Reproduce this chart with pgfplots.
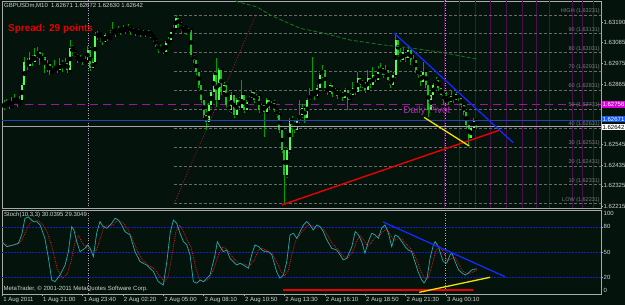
\documentclass[border=0pt]{standalone}
\usepackage{pgfplots}
\pgfplotsset{compat=1.18}
\usepackage{pgfplotstable}
\usepackage{fontspec}
\setmainfont{Liberation Sans}
\definecolor{bg}{RGB}{4,20,12}
\definecolor{wick}{RGB}{0,160,0}
\definecolor{bull}{RGB}{80,255,80}
\definecolor{bear}{RGB}{30,190,30}
\definecolor{fibgray}{RGB}{105,105,105}
\definecolor{fibtxt}{RGB}{125,125,125}
\definecolor{pivot}{RGB}{160,20,160}
\definecolor{pivottxt}{RGB}{175,40,175}
\definecolor{askblue}{RGB}{30,70,170}
\definecolor{bidgray}{RGB}{165,165,165}
\definecolor{vpurple}{RGB}{75,15,75}
\definecolor{frame}{RGB}{170,170,170}
\definecolor{txt}{RGB}{210,210,210}
\definecolor{trendred}{RGB}{235,0,0}
\definecolor{trendblue}{RGB}{20,40,255}
\definecolor{trendyellow}{RGB}{240,225,0}
\definecolor{magbox}{RGB}{220,0,220}
\definecolor{bluebox}{RGB}{20,90,230}
\definecolor{kline}{RGB}{40,170,170}
\definecolor{dline}{RGB}{230,20,20}
\definecolor{levelblue}{RGB}{20,30,200}
\definecolor{sep}{RGB}{190,160,190}
\definecolor{fibdot}{RGB}{150,20,40}
\definecolor{ma}{RGB}{30,115,30}
\definecolor{spread}{RGB}{230,0,0}
\tikzset{fiblab/.style={anchor=south east, inner sep=0pt, font=\fontsize{5.5}{6}\selectfont, text=fibtxt, xshift=-1pt, yshift=1.2pt}}

\pgfplotstableread{
i o h l c
-31 1.62748 1.62780 1.62727 1.62759
-30 1.62759 1.62785 1.62748 1.62769
-29 1.62769 1.62780 1.62732 1.62748
-28 1.62748 1.62796 1.62738 1.62775
-27 1.62775 1.62812 1.62764 1.62785
-26 1.62785 1.62796 1.62743 1.62764
-25 1.62764 1.62801 1.62754 1.62780
-24 1.62780 1.62870 1.62775 1.62860
-23 1.62860 1.63008 1.62849 1.62981
-22 1.62981 1.63003 1.62939 1.62960
-21 1.62960 1.63034 1.62950 1.63003
-20 1.63003 1.63019 1.62960 1.62981
-19 1.62981 1.63056 1.62971 1.63019
-18 1.63019 1.63061 1.63003 1.63034
-17 1.63034 1.63045 1.62966 1.62992
-16 1.62992 1.63029 1.62976 1.63008
-15 1.63008 1.63019 1.62923 1.62950
-14 1.62950 1.62992 1.62928 1.62971
-13 1.62971 1.62981 1.62913 1.62928
-12 1.62928 1.62960 1.62918 1.62939
-11 1.62939 1.62992 1.62928 1.62960
-10 1.62960 1.62971 1.62923 1.62939
-9 1.62939 1.63003 1.62934 1.62971
-8 1.62971 1.62992 1.62928 1.62950
-7 1.62950 1.63003 1.62939 1.62976
-6 1.62976 1.62987 1.62923 1.62939
-5 1.62939 1.63098 1.62934 1.63056
-4 1.63056 1.63072 1.63013 1.63034
-3 1.63034 1.63045 1.62992 1.63008
-2 1.63008 1.63024 1.62976 1.62992
-1 1.62992 1.63019 1.62981 1.63003
0 1.63003 1.63013 1.62966 1.62981
1 1.62981 1.63013 1.62971 1.62992
2 1.62992 1.63066 1.62981 1.63045
3 1.63045 1.63061 1.62934 1.62950
4 1.62950 1.63003 1.62939 1.62981
5 1.62981 1.63140 1.62976 1.63119
6 1.63119 1.63146 1.63098 1.63130
7 1.63130 1.63140 1.63087 1.63109
8 1.63109 1.63119 1.63072 1.63087
9 1.63087 1.63135 1.63077 1.63125
10 1.63125 1.63135 1.63093 1.63109
11 1.63109 1.63151 1.63098 1.63135
12 1.63135 1.63193 1.63125 1.63151
13 1.63151 1.63162 1.63114 1.63130
14 1.63130 1.63172 1.63119 1.63156
15 1.63156 1.63167 1.63125 1.63140
16 1.63140 1.63178 1.63135 1.63162
17 1.63162 1.63172 1.63130 1.63146
18 1.63146 1.63183 1.63135 1.63167
19 1.63167 1.63178 1.63125 1.63140
20 1.63140 1.63162 1.63130 1.63151
21 1.63151 1.63162 1.63119 1.63135
22 1.63135 1.63156 1.63125 1.63146
23 1.63146 1.63156 1.63114 1.63125
24 1.63125 1.63151 1.63114 1.63140
25 1.63140 1.63146 1.63114 1.63130
26 1.63130 1.63151 1.63119 1.63135
27 1.63135 1.63146 1.63109 1.63119
28 1.63119 1.63130 1.63087 1.63098
29 1.63098 1.63109 1.63061 1.63072
30 1.63072 1.63082 1.63029 1.63045
31 1.63045 1.63077 1.63040 1.63056
32 1.63056 1.63066 1.63024 1.63034
33 1.63034 1.63093 1.63024 1.63082
34 1.63082 1.63114 1.63072 1.63098
35 1.63098 1.63151 1.63087 1.63140
36 1.63140 1.63178 1.63130 1.63162
37 1.63162 1.63231 1.63151 1.63215
38 1.63215 1.63225 1.63162 1.63178
39 1.63178 1.63193 1.63135 1.63151
40 1.63151 1.63172 1.63140 1.63162
41 1.63162 1.63172 1.63125 1.63140
42 1.63140 1.63162 1.63130 1.63151
43 1.63151 1.63162 1.63008 1.63019
44 1.63019 1.63034 1.62976 1.62992
45 1.62992 1.63003 1.62913 1.62928
46 1.62928 1.62939 1.62844 1.62860
47 1.62860 1.62870 1.62764 1.62780
48 1.62780 1.62791 1.62685 1.62701
49 1.62701 1.62727 1.62621 1.62663
50 1.62663 1.62764 1.62648 1.62754
51 1.62754 1.62833 1.62738 1.62822
52 1.62822 1.62923 1.62807 1.62913
53 1.62913 1.63003 1.62743 1.62780
54 1.62780 1.62950 1.62769 1.62939
55 1.62939 1.62950 1.62807 1.62822
56 1.62822 1.62875 1.62807 1.62860
57 1.62860 1.62870 1.62738 1.62754
58 1.62754 1.62780 1.62716 1.62727
59 1.62727 1.62822 1.62711 1.62807
60 1.62807 1.62817 1.62685 1.62701
61 1.62701 1.62791 1.62690 1.62780
62 1.62780 1.62796 1.62727 1.62738
63 1.62738 1.62886 1.62727 1.62807
64 1.62807 1.62817 1.62711 1.62727
65 1.62727 1.62780 1.62716 1.62769
66 1.62769 1.62807 1.62759 1.62791
67 1.62791 1.62833 1.62780 1.62822
68 1.62822 1.62833 1.62764 1.62780
69 1.62780 1.62812 1.62769 1.62801
70 1.62801 1.62812 1.62711 1.62727
71 1.62727 1.62764 1.62716 1.62754
72 1.62754 1.62764 1.62584 1.62716
73 1.62716 1.62791 1.62706 1.62780
74 1.62780 1.62791 1.62727 1.62738
75 1.62738 1.62775 1.62727 1.62764
76 1.62764 1.62780 1.62716 1.62727
77 1.62727 1.62738 1.62685 1.62701
78 1.62701 1.62716 1.62605 1.62621
79 1.62621 1.62632 1.62499 1.62515
80 1.62515 1.62526 1.62231 1.62383
81 1.62383 1.62526 1.62367 1.62515
82 1.62515 1.62685 1.62499 1.62674
83 1.62674 1.62695 1.62584 1.62648
84 1.62648 1.62674 1.62605 1.62621
85 1.62621 1.62685 1.62610 1.62674
86 1.62674 1.62780 1.62658 1.62701
87 1.62701 1.62759 1.62685 1.62738
88 1.62738 1.62754 1.62658 1.62685
89 1.62685 1.62791 1.62674 1.62780
90 1.62780 1.62844 1.62769 1.62807
91 1.62807 1.63008 1.62796 1.62822
92 1.62822 1.62833 1.62780 1.62801
93 1.62801 1.62860 1.62791 1.62844
94 1.62844 1.62923 1.62833 1.62913
95 1.62913 1.62966 1.62897 1.62939
96 1.62939 1.62950 1.62833 1.62844
97 1.62844 1.62854 1.62807 1.62822
98 1.62822 1.62870 1.62812 1.62860
99 1.62860 1.62870 1.62796 1.62812
100 1.62812 1.62844 1.62801 1.62833
101 1.62833 1.62844 1.62785 1.62801
102 1.62801 1.62833 1.62791 1.62822
103 1.62822 1.62833 1.62775 1.62791
104 1.62791 1.62844 1.62780 1.62833
105 1.62833 1.62844 1.62727 1.62780
106 1.62780 1.62817 1.62769 1.62807
107 1.62807 1.62875 1.62796 1.62844
108 1.62844 1.62854 1.62807 1.62822
109 1.62822 1.62928 1.62812 1.62897
110 1.62897 1.62907 1.62844 1.62860
111 1.62860 1.62886 1.62844 1.62875
112 1.62875 1.62886 1.62817 1.62833
113 1.62833 1.62939 1.62822 1.62897
114 1.62897 1.62907 1.62844 1.62860
115 1.62860 1.62955 1.62849 1.62913
116 1.62913 1.62923 1.62875 1.62886
117 1.62886 1.62960 1.62875 1.62928
118 1.62928 1.62976 1.62918 1.62950
119 1.62950 1.62960 1.62897 1.62913
120 1.62913 1.62966 1.62902 1.62939
121 1.62939 1.62950 1.62870 1.62886
122 1.62886 1.62897 1.62844 1.62860
123 1.62860 1.62928 1.62849 1.62913
124 1.62913 1.63135 1.62897 1.63098
125 1.63098 1.63109 1.63003 1.63019
126 1.63019 1.63056 1.62981 1.62992
127 1.62992 1.63061 1.62981 1.63034
128 1.63034 1.63045 1.62981 1.63003
129 1.63003 1.63072 1.62992 1.63045
130 1.63045 1.63056 1.62966 1.62981
131 1.62981 1.63019 1.62971 1.62992
132 1.62992 1.63003 1.62923 1.62939
133 1.62939 1.62950 1.62897 1.62913
134 1.62913 1.62923 1.62854 1.62875
135 1.62875 1.62981 1.62865 1.62928
136 1.62928 1.62939 1.62844 1.62860
137 1.62860 1.62870 1.62690 1.62727
138 1.62727 1.62817 1.62716 1.62807
139 1.62807 1.62870 1.62796 1.62860
140 1.62860 1.62902 1.62849 1.62886
141 1.62886 1.62897 1.62828 1.62844
142 1.62844 1.62854 1.62791 1.62807
143 1.62807 1.62817 1.62754 1.62780
144 1.62780 1.62822 1.62769 1.62796
145 1.62796 1.62807 1.62754 1.62769
146 1.62769 1.62833 1.62759 1.62801
147 1.62801 1.62812 1.62764 1.62780
148 1.62780 1.62822 1.62769 1.62812
149 1.62812 1.62822 1.62775 1.62791
150 1.62791 1.62801 1.62738 1.62754
151 1.62754 1.62764 1.62701 1.62716
152 1.62716 1.62727 1.62632 1.62648
153 1.62648 1.62658 1.62542 1.62579
154 1.62579 1.62642 1.62568 1.62632
155 1.62632 1.62685 1.62621 1.62671
156 1.62671 1.62672 1.62630 1.62642
}\candles

\begin{document}
\begin{tikzpicture}[x=1pt,y=1pt]
\fill[bg] (0,0) rectangle (625,305);
\useasboundingbox (0,0) rectangle (625,305);

% ---------------- main price panel ----------------
\begin{axis}[
  at={(2pt,97pt)}, anchor=south west, scale only axis,
  width=599pt, height=207pt,
  xmin=-31.9, xmax=205.4, ymin=1.622076, ymax=1.633047,
  clip mode=individual, unbounded coords=jump,
  axis line style={draw=frame, line width=0.6pt},
  xtick=\empty,
  ytick={1.62215,1.62325,1.62435,1.62545,1.62865,1.62975,1.63085,1.63190},
  yticklabels={1.62215,1.62325,1.62435,1.62545,1.62865,1.62975,1.63085,1.63190},
  ytick pos=right, yticklabel pos=right,
  tick align=outside, major tick length=2pt,
  tick style={draw=frame, line width=0.5pt},
  yticklabel style={font=\fontsize{6}{7}\selectfont, text=txt, anchor=west, inner sep=0.5pt},
]
% vertical purple lines
\addplot[vpurple, line width=0.8pt] coordinates {
 (143.2,1.6219) (143.2,1.6332) (143.2,nan)
 (149.2,1.6219) (149.2,1.6332) (149.2,nan)
 (155.5,1.6219) (155.5,1.6332) (155.5,nan)
 (161.4,1.6219) (161.4,1.6332) (161.4,nan)
 (167.8,1.6219) (167.8,1.6332) (167.8,nan)
 (174.1,1.6219) (174.1,1.6332) (174.1,nan)
 (180.0,1.6219) (180.0,1.6332) (180.0,nan)
 (184.8,1.6219) (184.8,1.6332) (184.8,nan)
 (193.9,1.6219) (193.9,1.6332) (193.9,nan)
 (197.9,1.6219) (197.9,1.6332) (197.9,nan)
 (202.3,1.6219) (202.3,1.6332)};
% fibonacci levels
\addplot[fibgray, line width=0.6pt, dash pattern=on 3pt off 2pt] coordinates {
 (36.3,1.63231) (206,1.63231) (36.3,nan)
 (36.3,1.63131) (206,1.63131) (36.3,nan)
 (36.3,1.63031) (206,1.63031) (36.3,nan)
 (36.3,1.62931) (206,1.62931) (36.3,nan)
 (36.3,1.62831) (206,1.62831) (36.3,nan)
 (36.3,1.62731) (206,1.62731) (36.3,nan)
 (36.3,1.62631) (206,1.62631) (36.3,nan)
 (36.3,1.62531) (206,1.62531) (36.3,nan)
 (36.3,1.62431) (206,1.62431) (36.3,nan)
 (36.3,1.62331) (206,1.62331) (36.3,nan)
 (36.3,1.62231) (206,1.62231)};
\addplot[fibdot, line width=0.8pt, dash pattern=on 1pt off 1.6pt] coordinates {(36.3,1.62231) (68.7,1.63231)};
% day separators
\addplot[sep, line width=0.6pt, dash pattern=on 1pt off 1.5pt] coordinates {
 (2.2,1.6219) (2.2,1.6332) (2.2,nan) (143.6,1.6219) (143.6,1.6332)};
% daily pivot
\addplot[pivot, line width=0.9pt, dash pattern=on 8pt off 5pt] coordinates {(-33,1.62756) (206,1.62756)};
% candles: wicks
\addplot[only marks, mark=none, forget plot,
  error bars/.cd, y dir=both, y explicit, error mark=none,
  error bar style={draw=wick, line width=0.7pt}]
  table[x=i, y=o, y error plus expr=\thisrow{h}-\thisrow{o}, y error minus expr=\thisrow{o}-\thisrow{l}] {\candles};
% bull bodies
\addplot[only marks, mark=none, forget plot,
  error bars/.cd, y dir=both, y explicit, error mark=none,
  error bar style={draw=bull, line width=2.0pt}]
  table[x=i, y expr=0.5*(\thisrow{o}+\thisrow{c}), y error expr={0.5*max(\thisrow{c}-\thisrow{o},0)}] {\candles};
% bear bodies
\addplot[only marks, mark=none, forget plot,
  error bars/.cd, y dir=both, y explicit, error mark=none,
  error bar style={draw=bear, line width=2.0pt}]
  table[x=i, y expr=0.5*(\thisrow{o}+\thisrow{c}), y error expr={0.5*max(\thisrow{o}-\thisrow{c},0)}] {\candles};
% moving average (dashed green)
\addplot[ma, line width=0.8pt, dash pattern=on 4pt off 2pt] coordinates {
 (56.5,1.63340) (61.2,1.63301) (69,1.63274) (74.3,1.63231) (86.2,1.63160) (95.3,1.63135)
 (106,1.63098) (113.9,1.63082) (119.1,1.63072) (129.8,1.63056) (141.6,1.63034) (156.3,1.62997)};
% ask and bid lines
\addplot[askblue, line width=1.3pt] coordinates {(-33,1.62671) (206,1.62671)};
\addplot[bidgray, line width=0.6pt] coordinates {(-33,1.62642) (206,1.62642)};
% trend lines
\addplot[trendred, line width=1.4pt] coordinates {(79.0,1.62224) (165.4,1.62621)};
\addplot[trendblue, line width=1.3pt] coordinates {(123.4,1.63135) (170.6,1.62554)};
\addplot[trendyellow, line width=1.3pt] coordinates {(135.3,1.62688) (153.2,1.62536)};
% texts
\node[anchor=west, inner sep=0pt, font=\fontsize{6}{7}\selectfont, text=txt] at (rel axis cs:0,1) [xshift=2pt, yshift=-5pt] {GBPUSDm,M10\ \ 1.62671 1.62672 1.62630 1.62642};
\node[anchor=west, inner sep=0pt, font=\bfseries\fontsize{10}{12}\selectfont, text=spread] at (rel axis cs:0,1) [xshift=6pt, yshift=-27.5pt] {Spread: 29 points};
\node[anchor=west, inner sep=0pt, font=\fontsize{10}{12}\selectfont, text=pivottxt] at (axis cs:127,1.62722) {Daily Pivot};
\node[fiblab] at (axis cs:205.4,1.63231) {HIGH (1.63231)};
\node[fiblab] at (axis cs:205.4,1.63131) {90 (1.63131)};
\node[fiblab] at (axis cs:205.4,1.63031) {80 (1.63031)};
\node[fiblab] at (axis cs:205.4,1.62931) {70 (1.62931)};
\node[fiblab] at (axis cs:205.4,1.62831) {60 (1.62831)};
\node[fiblab] at (axis cs:205.4,1.62731) {50 (1.62731)};
\node[fiblab] at (axis cs:205.4,1.62631) {40 (1.62631)};
\node[fiblab] at (axis cs:205.4,1.62531) {30 (1.62531)};
\node[fiblab] at (axis cs:205.4,1.62431) {20 (1.62431)};
\node[fiblab] at (axis cs:205.4,1.62331) {10 (1.62331)};
\node[fiblab] at (axis cs:205.4,1.62231) {LOW (1.62231)};
\node[anchor=west, fill=magbox, text=white, inner sep=0.5pt, minimum height=6.5pt, minimum width=23pt, font=\fontsize{6}{6}\selectfont] at (axis cs:205.4,1.62756) [xshift=0.8pt] {1.62756};
\node[anchor=west, fill=bluebox, text=white, inner sep=0.5pt, minimum height=6pt, minimum width=23pt, font=\fontsize{6}{6}\selectfont] at (axis cs:205.4,1.62677) [xshift=0.8pt] {1.62671};
\node[anchor=west, fill=white, text=black, inner sep=0.5pt, minimum height=6pt, minimum width=23pt, font=\fontsize{6}{6}\selectfont] at (axis cs:205.4,1.62637) [xshift=0.8pt] {1.62642};
\end{axis}

% ---------------- stochastic panel ----------------
\begin{axis}[
  at={(2pt,10.5pt)}, anchor=south west, scale only axis,
  width=599pt, height=84.5pt,
  xmin=-31.9, xmax=205.4, ymin=0, ymax=100,
  clip mode=individual, unbounded coords=jump,
  axis line style={draw=frame, line width=0.6pt},
  xtick={-31.8,-16,0,16,32,48,64,80,96,112,128,144},
  xticklabels={1 Aug 2011,1 Aug 21:00,1 Aug 23:40,2 Aug 02:20,2 Aug 05:00,2 Aug 08:10,2 Aug 10:50,2 Aug 13:30,2 Aug 16:10,2 Aug 18:50,2 Aug 21:30,3 Aug 00:10},
  xtick pos=bottom,
  ytick={20,50,80}, yticklabels={20,50,80},
  ytick pos=right, yticklabel pos=right,
  tick align=outside, major tick length=2pt,
  tick style={draw=frame, line width=0.5pt},
  xticklabel style={font=\fontsize{6}{7}\selectfont, text=txt, anchor=north west, inner sep=0.5pt, xshift=0.3pt},
  yticklabel style={font=\fontsize{6}{7}\selectfont, text=txt, anchor=west, inner sep=0.5pt},
]
\addplot[levelblue, line width=0.6pt, dash pattern=on 1.5pt off 1.5pt] coordinates {
 (-33,80) (206,80) (-33,nan) (-33,50) (206,50) (-33,nan) (-33,20) (206,20)};
\addplot[sep, line width=0.6pt, dash pattern=on 1pt off 1.5pt] coordinates {
 (2.2,-2) (2.2,102) (2.2,nan) (143.6,-2) (143.6,102)};
% signal line (red dotted)
\addplot[dline, line width=0.7pt, dash pattern=on 1pt off 1pt] coordinates {
 (-32,60) (-29,58) (-26,59) (-24,64) (-22,78) (-20,88) (-18,88) (-16,84) (-14,74) (-12,55)
 (-10,30) (-8,19) (-6,25) (-4.5,40) (-3,62) (-1.5,70) (0,60) (2,55) (4,52) (5.5,52) (7,66)
 (8.5,80) (10,82) (12,82) (14,88) (16,85) (18,77) (20,64) (22,50) (24,40) (26,35) (28.5,30)
 (30.5,22) (32.5,15) (34,22) (35.5,48) (37,75) (38.5,82) (40,74) (41.5,64) (43,56) (45,30)
 (46.5,17) (48,15) (50,18) (52,30) (54,48) (55.5,56) (57,54) (58.5,48) (60,42) (62,37)
 (64,36) (66,34) (68,40) (69.5,52) (71,55) (73,52) (75,49) (77,38) (78.5,28) (80,22)
 (81.5,28) (83,48) (84.5,64) (86,70) (87.5,76) (89,82) (90.5,82) (92,80) (94,80) (96,76)
 (97.5,68) (99,60) (101,54) (103,46) (105,43) (107,50) (108.5,62) (110,70) (111.5,64)
 (113,57) (114.5,62) (116,68) (117.5,70) (119,74) (120.5,78) (122,70) (123.5,64) (125,66)
 (126.5,66) (128,60) (129.5,56) (131,50) (132.5,40) (134,28) (135.5,19) (137,20) (138.5,35)
 (140,52) (141.5,57) (143,50) (144.5,40) (146,42) (147.5,44) (149,36) (150.5,28) (152,25)
 (153.5,25) (155,27) (156.2,29.3)};
% main %K line
\addplot[kline, line width=0.7pt] coordinates {
 (-32,62.5) (-30,56.6) (-27.4,58.6) (-25.4,60.6) (-24.1,70.5) (-22.8,90.2) (-21.5,91.8)
 (-19.5,86.2) (-18.1,86.2) (-16.8,82.3) (-14.9,66.5) (-13.5,42.9) (-12.2,17.2) (-10.9,15.2)
 (-8.9,23.1) (-6.9,34.9) (-5.6,50.7) (-4.3,80.3) (-3.4,76.4) (-2.3,62.5) (-1,50.7) (1,54.7)
 (1.9,58.6) (3,54.7) (4.3,44.8) (5.6,72.5) (6.9,86.2) (8.2,80.3) (9.6,78.4) (11.6,84.3)
 (12.9,90.2) (14.2,88.2) (15.5,82.3) (16.8,74.4) (18.8,70.5) (20.8,50.7) (22.8,38.9)
 (25.4,34.9) (28.1,27) (30,15.2) (32,11.2) (33.4,38.8) (34.7,72.5) (36,88.2) (37.3,84.3)
 (38.6,72.5) (40,62.5) (41.3,58.6) (42.6,46.8) (43.9,15.2) (45.2,13.3) (46.6,17.2)
 (47.9,15.2) (49.3,19.2) (50.5,23.1) (52.5,46.8) (53.4,62.5) (54.5,56.6) (55.8,50.7)
 (57.1,52.7) (58.4,42.9) (59.7,38.8) (61.1,34.9) (62.4,36.9) (63.7,34.9) (65.7,31)
 (67,46.8) (68.3,58.6) (69.7,56.6) (71,52.7) (72.3,50.7) (73.6,50.7) (75,46.8) (76.9,27)
 (78.2,19.2) (79.6,23.1) (80.9,38.8) (82.2,70.5) (83.5,72.5) (84.9,66.5) (86.2,74.4)
 (87.5,82.3) (88.8,86.2) (90.1,82.3) (91.4,76.4) (92.8,82.3) (94.1,80.3) (95.4,74.4)
 (96.8,64.5) (98.7,54.7) (100.7,52.7) (102,46.8) (103.3,40.9) (104.7,42.9) (106.7,56.6)
 (108,74.4) (109.3,70.5) (110.6,62.5) (111.9,48.8) (113.2,62.5) (114.6,72.5) (115.9,70.5)
 (117.2,66.5) (118.5,78.4) (119.8,82.3) (121.2,72.5) (122.5,56.6) (123.8,70.5) (125.1,68.4)
 (126.5,62.5) (127.8,56.6) (129.1,52.7) (130.4,50.7) (131.7,38.5) (133,26.6) (134.4,17.2)
 (135.3,13.6) (136.5,19.5) (137.7,43.2) (139,58.6) (139.7,62.5) (141,56.6) (141.6,50.7)
 (142.9,38.8) (144.3,37.3) (145.6,46.8) (146.3,49.1) (147.6,38.8) (149,29) (150.3,25.5)
 (151.6,23.1) (152.9,25.5) (154.2,29) (155.5,30.2) (156.2,30.04)};
% trend lines on the oscillator
\addplot[trendblue, line width=1.3pt] coordinates {(119.1,85.8) (167.4,21.1)};
\addplot[trendred, line width=1.3pt] coordinates {(79.4,5.3) (154.6,5.3)};
\addplot[trendyellow, line width=1.3pt] coordinates {(133.4,2.6) (161.5,20.4)};
% texts
\node[anchor=west, inner sep=0pt, font=\fontsize{6}{7}\selectfont, text=txt] at (rel axis cs:0,1) [xshift=2pt, yshift=-5pt] {Stoch(10,3,3) 30.0395 29.3049};
\node[anchor=west, inner sep=0pt, font=\fontsize{6}{7}\selectfont, text=txt] at (rel axis cs:0,0) [xshift=1.5pt, yshift=5.5pt] {MetaTrader, © 2001-2011 MetaQuotes Software Corp.};
\node[anchor=west, inner sep=0pt, font=\fontsize{6}{7}\selectfont, text=txt] at (rel axis cs:1,1) [xshift=2.5pt, yshift=-3pt] {100};
\node[anchor=west, inner sep=0pt, font=\fontsize{6}{7}\selectfont, text=txt] at (rel axis cs:1,0) [xshift=2.5pt, yshift=4.5pt] {0};
\end{axis}
\end{tikzpicture}
\end{document}
